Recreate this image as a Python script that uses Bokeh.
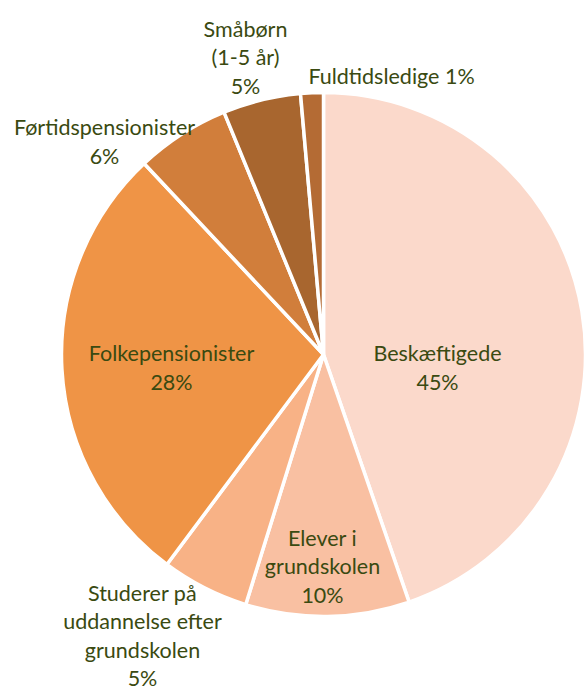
import math
from bokeh.plotting import figure
from bokeh.models import Range1d, ColumnDataSource
from bokeh.core.properties import value
from bokeh.embed import file_html
from bokeh.resources import INLINE

# ---- data ----
categories = [
    "Beskæftigede",
    "Elever i\ngrundskolen",
    "Studerer på\nuddannelse efter\ngrundskolen",
    "Folkepensionister",
    "Førtidspensionister",
    "Småbørn\n(1-5 år)",
    "Fuldtidsledige",
]
shares = [44.7, 10.1, 5.4, 27.8, 5.8, 4.8, 1.4]
colors = ["#FBD9CB", "#F9C0A2", "#F8B286", "#EF9446", "#D17E3B", "#A8662F", "#B46B34"]
# label separator between name and percent ("\n" = own line, " " = same line)
label_sep = ["\n", "\n", "\n", "\n", "\n", "\n", " "]

# ---- layout (page pixel coordinates) ----
W, H = 584, 690
center_page = (323, 354)
radius = 262
label_centers_page = [
    (437, 367), (322, 566), (142, 635), (171, 367),
    (104, 141), (245, 57), (391, 75),
]

def to_data(px, py):
    return px, H - py

cx, cy = to_data(*center_page)

total = sum(shares)
starts, ends = [], []
cum = 0.0
for s in shares:
    starts.append(math.pi / 2 - 2 * math.pi * cum / total)
    cum += s
    ends.append(math.pi / 2 - 2 * math.pi * cum / total)

src = ColumnDataSource(dict(start=starts, end=ends, color=colors))

p = figure(width=W, height=H, output_backend="svg", toolbar_location=None,
           x_range=Range1d(0, W), y_range=Range1d(0, H), min_border=0)
p.axis.visible = False
p.grid.visible = False
p.outline_line_color = None
p.background_fill_color = "white"
p.border_fill_color = "white"

p.wedge(x=cx, y=cy, radius=radius, start_angle="start", end_angle="end",
        direction="clock", fill_color="color", line_color="white",
        line_width=3.5, source=src)

labels = [f"{c}{sep}{round(s)}%" for c, s, sep in zip(categories, shares, label_sep)]
lx = [to_data(*xy)[0] for xy in label_centers_page]
ly = [to_data(*xy)[1] for xy in label_centers_page]
lsrc = ColumnDataSource(dict(x=lx, y=ly, text=labels))
p.text(x="x", y="y", text="text", source=lsrc, text_align="center",
       text_baseline="middle", text_font=value("Lato"), text_font_size="21.5px",
       text_color="#3A4A11", text_line_height=1.09)

open("out.html", "w").write(file_html(p, INLINE))
